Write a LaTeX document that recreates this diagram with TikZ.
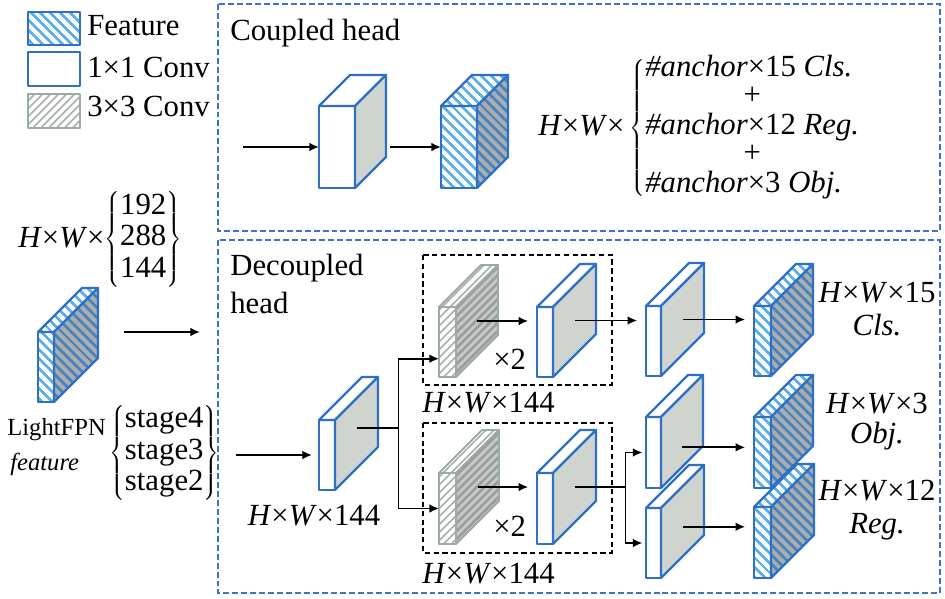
\documentclass[tikz,border=0pt]{standalone}
\usepackage{fontspec}
\setmainfont{Liberation Serif}
\usetikzlibrary{arrows.meta,patterns.meta}
\definecolor{cubeblue}{RGB}{46,112,198}
\definecolor{stripeblue}{RGB}{95,175,232}
\definecolor{sidestripe}{RGB}{72,132,190}
\definecolor{featgray}{RGB}{170,172,174}
\definecolor{convgray}{RGB}{208,212,206}
\definecolor{threeedge}{RGB}{156,170,164}
\definecolor{threestripe}{RGB}{168,174,171}
\definecolor{threeside}{RGB}{200,204,200}
\definecolor{threesidestripe}{RGB}{156,158,158}
\definecolor{boxblue}{RGB}{62,114,196}
\tikzset{
  featfront/.style={draw=cubeblue, line width=1.3pt, line join=round, preaction={fill=white},
    preaction={pattern={Lines[angle=-45,distance=4pt,line width=1.6pt]}, pattern color=stripeblue}},
  feattop/.style={featfront},
  featside/.style={draw=cubeblue, line width=1.3pt, line join=round, preaction={fill=featgray},
    preaction={pattern={Lines[angle=-45,distance=4pt,line width=1.6pt]}, pattern color=sidestripe}},
  convfront/.style={draw=cubeblue, line width=1.3pt, line join=round, fill=white},
  convtop/.style={convfront},
  convside/.style={draw=cubeblue, line width=1.3pt, line join=round, fill=convgray},
  convthreefront/.style={draw=threeedge, line width=1.1pt, line join=round, preaction={fill=white},
    preaction={pattern={Lines[angle=45,distance=3.2pt,line width=0.9pt]}, pattern color=threestripe}},
  convthreetop/.style={convthreefront},
  convthreeside/.style={draw=threeedge, line width=1.1pt, line join=round, preaction={fill=threeside},
    preaction={pattern={Lines[angle=45,distance=3.2pt,line width=1.6pt]}, pattern color=threesidestripe}},
  arr/.style={-{Latex[length=5.5pt,width=5pt]}, line width=1.1pt},
  bluebox/.style={draw=boxblue, line width=1.2pt, dash pattern=on 3.4pt off 1.7pt},
  blackbox/.style={draw=black, line width=0.8pt, dash pattern=on 3pt off 2pt},
}
% #1 name, #2 front top-left, #3 width, #4 height, #5 depth, #6 kind
\newcommand{\blockfaces}[6]{%
  \begin{scope}[shift={(#2)}]
    \path[#6front] (0,0) rectangle (#3,#4);
    \path[#6top] (0,0) -- (#5,-#5) -- (#3+#5,-#5) -- (#3,0) -- cycle;
    \path[#6side] (#3,0) -- (#3+#5,-#5) -- (#3+#5,#4-#5) -- (#3,#4) -- cycle;
    \coordinate (#1-in) at (0,#4/2);
    \coordinate (#1-out) at (#3+#5/2,#4/2-#5/2);
    \coordinate (#1-right) at (#3+#5+4,#4/2);
  \end{scope}}
\begin{document}
\begin{tikzpicture}[x=0.02cm, y=-0.02cm, every node/.style={font=\fontsize{17.5}{21}\selectfont, inner sep=0pt}]
\useasboundingbox (0,0) rectangle (945,598);

% legend
\path[featfront] (28,12) rectangle (80,45);
\path[convfront] (28,52) rectangle (80,86);
\path[convthreefront] (28,94) rectangle (80,128);
\node[anchor=base west] (legfeat) at (87,36) {Feature};
\node[anchor=base west] (legconv) at (87,77) {1×1 Conv};
\node[anchor=base west] (legthree) at (87,116) {3×3 Conv};

% frames
\draw[bluebox] (218,4) rectangle (940,231);
\draw[bluebox] (218,240) rectangle (940,593);
\draw[blackbox] (423,255) rectangle (612,385);
\draw[blackbox] (423,423) rectangle (612,553);

% input feature
\node[anchor=base west] (indims) at (18,247) {\textit{H}×\textit{W}×$\renewcommand{\arraystretch}{0.85}\left\{\begin{tabular}{@{}c@{}}192\\288\\144\end{tabular}\right\}$};
\blockfaces{inf}{38,332}{16}{70}{44}{feat}
\coordinate (ina) at (124,332);
\coordinate (inb) at (200,332);
\draw[arr] (ina) -- (inb);
\node[anchor=base west, font=\fontsize{14}{16}\selectfont] (fpn) at (7,435) {LightFPN};
\node[anchor=base west, font=\fontsize{14}{16}\selectfont] (fpnfeat) at (10,470) {\textit{feature}};
\node[anchor=west] (stages) at (109,453) {$\renewcommand{\arraystretch}{0.85}\left\{\begin{tabular}{@{}c@{}}stage4\\stage3\\stage2\end{tabular}\right\}$};

% coupled head
\node[anchor=base west] (coupled) at (230,41) {Coupled head};
\blockfaces{c1}{319,106}{36}{82}{31}{conv}
\blockfaces{c2}{441,106}{36}{82}{31}{feat}
\coordinate (cstart) at (243,147);
\draw[arr] (cstart) -- (c1-in);
\draw[arr] (c1-right) -- (c2-in);
\node[anchor=west] (coupleddims) at (538,128) {\textit{H}×\textit{W}×\,$\renewcommand{\arraystretch}{0.76}\left\{\begin{tabular}{@{}l@{}}\textit{\#anchor}×15 \textit{Cls.}\\\multicolumn{1}{c}{+}\\\textit{\#anchor}×12 \textit{Reg.}\\\multicolumn{1}{c}{+}\\\textit{\#anchor}×3 \textit{Obj.}\end{tabular}\right.$};

% decoupled head
\node[anchor=base west] (decoupled) at (230,275) {Decoupled};
\node[anchor=base west] (decoupledb) at (230,313) {head};
\blockfaces{d1}{319,420}{16}{70}{43}{conv}
\coordinate (dstart) at (236,455);
\draw[arr, shorten >=4pt] (dstart) -- (d1-in);
\node[anchor=base] (d1dims) at (314,525) {\textit{H}×\textit{W}×144};
\coordinate (d1arrow) at ([yshift=3pt]d1-out);
\draw[line width=1.1pt] (d1arrow) -- ++(42,0) coordinate (fork1);

\blockfaces{t3}{439,307}{17}{70}{42}{convthree}
\blockfaces{t1}{537,307}{16}{70}{43}{conv}
\blockfaces{b3}{439,473}{17}{71}{43}{convthree}
\blockfaces{b1}{537,473}{16}{71}{43}{conv}
\draw[arr] (fork1) |- ([yshift=-9.5pt]t3-in);
\draw[arr] (fork1) |- (b3-in);
\draw[arr, shorten >=5pt] (t3-out) -- (t3-out -| t1-in);
\draw[arr, shorten >=5pt] (b3-out) -- (b3-out -| b1-in);
\node[anchor=base west] (toptimes) at (493,369) {×2};
\node[anchor=base west] (bottimes) at (493,536) {×2};
\node[anchor=base west] (topdims) at (422,412) {\textit{H}×\textit{W}×144};
\node[anchor=base west] (botdims) at (422,583) {\textit{H}×\textit{W}×144};

\blockfaces{cc1}{646,306}{15}{70}{43}{conv}
\blockfaces{oc1}{646,417}{15}{71}{42}{conv}
\blockfaces{rc1}{646,508}{15}{70}{43}{conv}
\blockfaces{cls}{754,306}{17}{70}{42}{feat}
\blockfaces{obj}{754,417}{17}{71}{42}{feat}
\blockfaces{reg}{754,507}{17}{71}{43}{feat}
\draw[arr, shorten >=5pt] (t1-out) -- (t1-out -| cc1-in);
\draw[line width=1.1pt] (b1-out) -- ++(51,0) coordinate (fork2);
\draw[arr, shorten >=2pt] (fork2) |- (oc1-in);
\draw[arr, shorten >=2pt] (fork2) |- (rc1-in);
\coordinate (objarrow) at ([yshift=-9pt]oc1-out);
\coordinate (regarrow) at ([yshift=-3pt]rc1-out);
\draw[arr, shorten >=5pt] (cc1-out) -- (cc1-out -| cls-in);
\draw[arr, shorten >=5pt] (objarrow) -- (objarrow -| obj-in);
\draw[arr, shorten >=5pt] (regarrow) -- (regarrow -| reg-in);

\node[anchor=base] (clsdims) at (877,302) {\textit{H}×\textit{W}×15};
\node[anchor=base] (clsname) at (877,335) {\textit{Cls.}};
\node[anchor=base] (objdims) at (877,413) {\textit{H}×\textit{W}×3};
\node[anchor=base] (objname) at (877,443) {\textit{Obj.}};
\node[anchor=base] (regdims) at (877,500) {\textit{H}×\textit{W}×12};
\node[anchor=base] (regname) at (877,533) {\textit{Reg.}};
\end{tikzpicture}
\end{document}
